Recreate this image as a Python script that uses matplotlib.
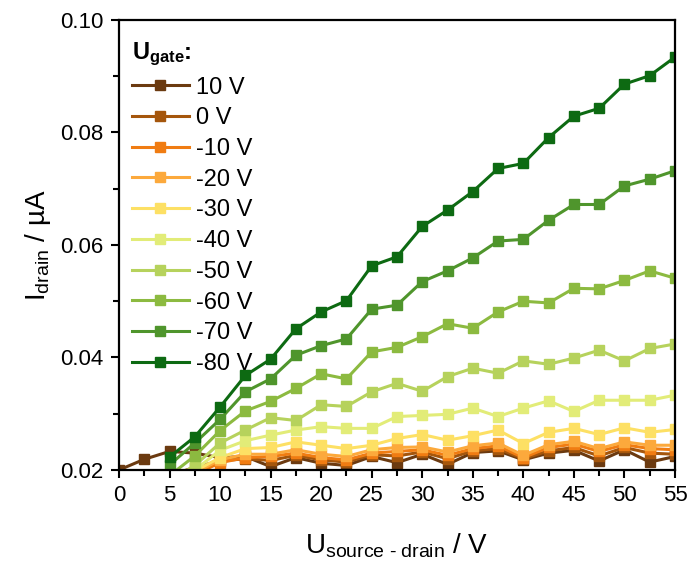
import matplotlib
matplotlib.use("Agg")
import matplotlib.pyplot as plt
import numpy as np
from matplotlib.ticker import MultipleLocator, FormatStrFormatter

nan = np.nan

# source-drain voltage (V)
u_sd = [0, 2.5, 5, 7.5, 10, 12.5, 15, 17.5, 20, 22.5, 25, 27.5,
        30, 32.5, 35, 37.5, 40, 42.5, 45, 47.5, 50, 52.5, 55]

# drain current (uA) for each gate voltage
i_10 = [0.0200, 0.0219, 0.0233, 0.0230, 0.0222, 0.0224, 0.0206, 0.0222, 0.0212, 0.0208, 0.0224, 0.0213,
        0.0228, 0.0210, 0.0231, 0.0234, 0.0218, 0.0230, 0.0235, 0.0216, 0.0236, 0.0214, 0.0224]
i_0 = [nan, nan, 0.0190, 0.0205, 0.0216, 0.0220, 0.0217, 0.0226, 0.0218, 0.0214, 0.0227, 0.0225,
       0.0232, 0.0220, 0.0234, 0.0238, 0.0220, 0.0234, 0.0240, 0.0225, 0.0240, 0.0230, 0.0228]
i_m10 = [nan, nan, 0.0185, 0.0192, 0.0213, 0.0222, 0.0224, 0.0230, 0.0222, 0.0218, 0.0230, 0.0233,
         0.0236, 0.0226, 0.0238, 0.0243, 0.0222, 0.0240, 0.0246, 0.0233, 0.0245, 0.0238, 0.0236]
i_m20 = [nan, nan, 0.0183, 0.0195, 0.0218, 0.0228, 0.0228, 0.0236, 0.0228, 0.0224, 0.0236, 0.0240,
         0.0241, 0.0232, 0.0243, 0.0248, 0.0226, 0.0245, 0.0251, 0.0238, 0.0250, 0.0244, 0.0244]
i_m30 = [nan, nan, 0.0182, 0.0198, 0.0222, 0.0238, 0.0240, 0.0250, 0.0244, 0.0238, 0.0244, 0.0256,
         0.0263, 0.0253, 0.0261, 0.0271, 0.0247, 0.0267, 0.0274, 0.0263, 0.0275, 0.0267, 0.0272]
i_m40 = [nan, nan, 0.0180, 0.0200, 0.0235, 0.0252, 0.0262, 0.0271, 0.0277, 0.0274, 0.0274, 0.0295,
         0.0297, 0.0299, 0.0310, 0.0295, 0.0310, 0.0323, 0.0304, 0.0324, 0.0324, 0.0324, 0.0333]
i_m50 = [nan, nan, 0.0180, 0.0208, 0.0248, 0.0271, 0.0293, 0.0288, 0.0316, 0.0313, 0.0339, 0.0354,
         0.0340, 0.0366, 0.0381, 0.0372, 0.0394, 0.0388, 0.0399, 0.0413, 0.0394, 0.0416, 0.0424]
i_m60 = [nan, nan, 0.0190, 0.0225, 0.0270, 0.0305, 0.0322, 0.0345, 0.0371, 0.0362, 0.0410, 0.0418,
         0.0437, 0.0460, 0.0452, 0.0481, 0.0500, 0.0497, 0.0523, 0.0522, 0.0537, 0.0554, 0.0541]
i_m70 = [nan, nan, 0.0209, 0.0248, 0.0290, 0.0339, 0.0362, 0.0404, 0.0421, 0.0433, 0.0486, 0.0493,
         0.0535, 0.0554, 0.0577, 0.0607, 0.0610, 0.0644, 0.0672, 0.0672, 0.0705, 0.0717, 0.0732]
i_m80 = [nan, nan, 0.0223, 0.0259, 0.0312, 0.0368, 0.0397, 0.0451, 0.0481, 0.0501, 0.0563, 0.0579,
         0.0633, 0.0662, 0.0695, 0.0736, 0.0745, 0.0791, 0.0829, 0.0843, 0.0886, 0.0901, 0.0934]

labels = ["10 V", "0 V", "-10 V", "-20 V", "-30 V", "-40 V", "-50 V", "-60 V", "-70 V", "-80 V"]
curves = [i_10, i_0, i_m10, i_m20, i_m30, i_m40, i_m50, i_m60, i_m70, i_m80]
colors = ['#6b3a10', '#a5560c', '#f07c12', '#fca93c', '#fde064',
          '#e2ec78', '#b6d25c', '#8cba40', '#4f952c', '#0d6a12']

plt.rcParams.update({'font.family': ['Liberation Sans', 'DejaVu Sans']})
plt.rcParams["mathtext.fontset"] = "custom"
plt.rcParams["mathtext.rm"] = "Liberation Sans"
plt.rcParams["mathtext.bf"] = "Liberation Sans:bold"
plt.rcParams["mathtext.default"] = "regular"

fig = plt.figure(figsize=(6.93, 5.63), dpi=100)
ax = fig.add_axes([0.1717, 0.1652, 0.8023, 0.7993])

for lab, cur, col in zip(labels, curves, colors):
    ax.plot(u_sd, cur, marker='s', markersize=6.5, linewidth=2.2, color=col, label=lab)

ax.set_xlim(0, 55)
ax.set_ylim(0.02, 0.10)
ax.xaxis.set_major_locator(MultipleLocator(5))
ax.xaxis.set_minor_locator(MultipleLocator(2.5))
ax.yaxis.set_major_locator(MultipleLocator(0.02))
ax.yaxis.set_minor_locator(MultipleLocator(0.01))
ax.yaxis.set_major_formatter(FormatStrFormatter('%.2f'))
ax.tick_params(which='major', direction='out', length=6, width=1.5, labelsize=16, pad=5)
ax.tick_params(which='minor', direction='out', length=4, width=1.5)
for sp in ax.spines.values():
    sp.set_linewidth(1.6)

ax.set_xlabel(r'$U_{\text{source - drain}}$ / V', fontsize=20, labelpad=18)
ax.set_ylabel(r'$I_{drain}$ / µA', fontsize=20, labelpad=5)

leg = ax.legend(loc='upper left', bbox_to_anchor=(0.0065, 0.9756), frameon=False, fontsize=17,
                title=r'$\mathbf{U_{gate}}$:',
                title_fontproperties={'size': 17, 'weight': 'bold'},
                handlelength=2.4, handletextpad=0.3, labelspacing=0.37,
                borderaxespad=0, numpoints=1, alignment='left')

fig.savefig("out.png", dpi=100)
